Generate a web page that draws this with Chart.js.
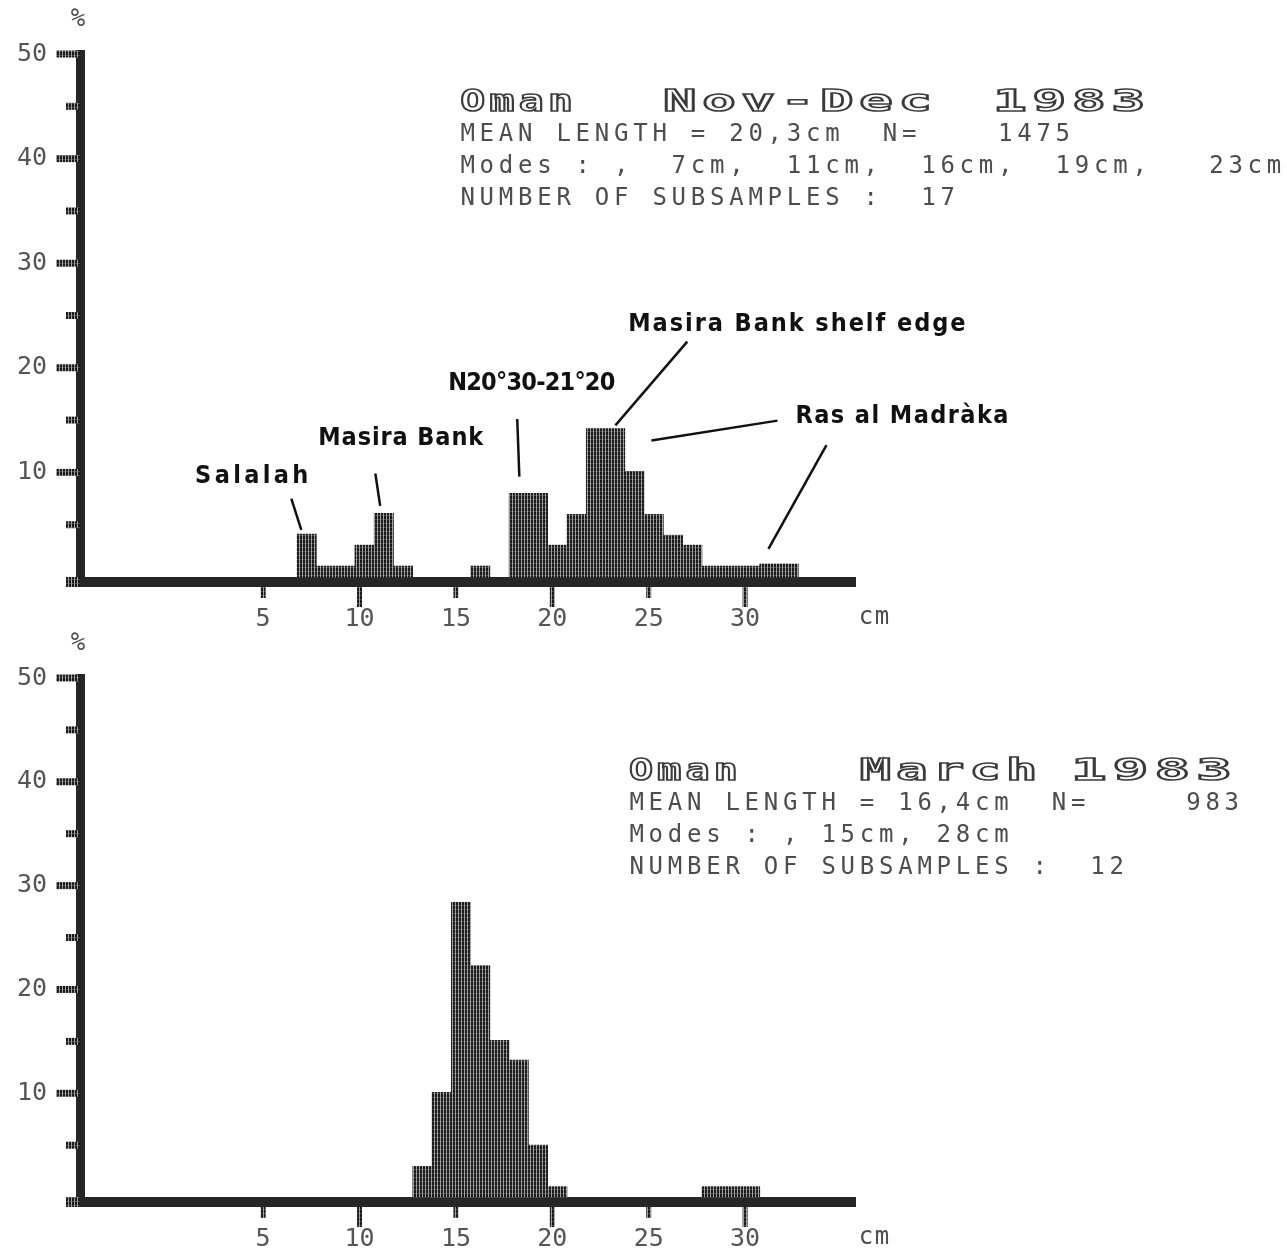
<!DOCTYPE html>
<html>
<head>
<meta charset="utf-8">
<script src="https://cdn.jsdelivr.net/npm/chart.js@4.4.1/dist/chart.umd.min.js"></script>
<style>
  body { margin: 0; background: #fff; }
  canvas { display: block; }
</style>
</head>
<body>
<canvas id="novdec" width="1287" height="630"></canvas>
<canvas id="march" width="1287" height="622"></canvas>
<script>
// length bins (cm) and % of catch per bin
const novDecLengths = [7, 8, 9, 10, 11, 12, 16, 18, 19, 20, 21, 22, 23, 24, 25, 26, 27, 28, 29, 30, 31, 32];
const novDecPct     = [4.1, 1.05, 1.05, 3.05, 6.1, 1.05, 1.05, 8.0, 8.0, 3.05, 6.0, 14.2, 14.2, 10.1, 6.0, 4.0, 3.05, 1.05, 1.05, 1.05, 1.25, 1.25];

const marchLengths = [13, 14, 15, 16, 17, 18, 19, 20, 28, 29, 30];
const marchPct     = [2.95, 10.1, 28.4, 22.3, 15.1, 13.2, 5.0, 1.0, 1.0, 1.0, 1.0];

const xTickValues = [5, 10, 15, 20, 25, 30];
const yTickValues = [10, 20, 30, 40, 50];

// bins are plotted a little right of the integer tick (bin n runs n-0.24 .. n+0.76)
const binCentre = 0.26;

// the Nov-Dec sheet has hand lettered notes: text span (cm), height (%), leader lines
const novDecNotes = [
  { text: "Salalah", x0: 1.47, x1: 7.34, y: 9.6, lines: [[6.46, 7.5, 6.98, 4.5]] },
  { text: "Masira Bank", x0: 7.86, x1: 16.42, y: 13.2, lines: [[10.82, 9.9, 11.07, 6.8]] },
  { text: "N20°30-21°20", x0: 14.6, x1: 23.27, y: 18.5, lines: [[18.18, 15.1, 18.29, 9.6]] },
  { text: "Masira Bank shelf edge", x0: 23.94, x1: 41.43, y: 24.1, lines: [[27.0, 22.5, 23.27, 14.5]] },
  { text: "Ras al Madràka", x0: 32.61, x1: 43.66, y: 15.3,
    lines: [[31.68, 14.95, 25.14, 13.05], [34.22, 12.6, 31.21, 2.7]] }
];

function hatch() {
  const c = document.createElement("canvas");
  c.width = 3; c.height = 4;
  const g = c.getContext("2d");
  g.fillStyle = "#1a1a1a"; g.fillRect(0, 0, 3, 4);
  g.fillStyle = "#a0a0a0"; g.fillRect(2, 0, 1, 4);
  g.fillStyle = "#4a4a4a"; g.fillRect(0, 3, 2, 1);
  return g.createPattern(c, "repeat");
}
const fill = hatch();

function printLine(ctx, s, x, y, adv) {
  for (let i = 0; i < s.length; i++) ctx.fillText(s[i], x + adv * (i + 0.5), y);
}

const sheet = {
  id: "sheet",
  afterDraw(chart, args, o) {
    const ctx = chart.ctx, xs = chart.scales.x, ys = chart.scales.y, ca = chart.chartArea;
    ctx.save();

    // axis tick marks
    ctx.fillStyle = fill;
    ctx.fillRect(ca.left - 14, ca.bottom - 5, 14, 10);
    for (let v = 5; v <= 50; v += 5) {
      const py = ys.getPixelForValue(v);
      const len = v % 10 === 0 ? 24 : 14;
      ctx.fillRect(ca.left - len, py - 3.5, len, 7);
    }
    xTickValues.forEach(v => {
      const px = xs.getPixelForValue(v);
      const len = v % 10 === 0 ? 20 : 11;
      ctx.fillRect(px - 2.5, ca.bottom + 5, 5, len);
    });

    // printer text
    ctx.fillStyle = "#4d4d4d";
    ctx.font = '24px "DejaVu Sans Mono"';
    ctx.textAlign = "center";
    ctx.textBaseline = "middle";
    ctx.fillText("%", ca.left - 2, ca.top - 34);
    printLine(ctx, "cm", ca.right + 3, ca.bottom + 36, 16);
    o.lines.forEach((s, i) => printLine(ctx, s, o.x, o.lineY + i * 32, 19.2));

    ctx.strokeStyle = "#3a3a3a";
    ctx.lineWidth = 1.6;
    ctx.font = 'bold 30px "DejaVu Sans Mono"';
    o.title.forEach(([w, x0, x1]) => {
      const adv = (x1 - x0) / w.length;
      const sx = adv * 0.85 / 18;
      for (let i = 0; i < w.length; i++) {
        ctx.save();
        ctx.translate(x0 + adv * (i + 0.5), o.titleY);
        ctx.scale(sx, 1);
        ctx.strokeText(w[i], 0, 0);
        ctx.restore();
      }
    });

    // hand lettered notes
    ctx.fillStyle = "#111";
    ctx.strokeStyle = "#111";
    ctx.lineWidth = 2.5;
    ctx.textAlign = "left";
    ctx.font = 'bold 25px "DejaVu Sans Condensed"';
    o.notes.forEach(n => {
      const x0 = xs.getPixelForValue(n.x0), x1 = xs.getPixelForValue(n.x1);
      ctx.letterSpacing = "0px";
      const w = ctx.measureText(n.text).width;
      ctx.letterSpacing = ((x1 - x0 - w) / (n.text.length - 1)) + "px";
      ctx.fillText(n.text, x0, ys.getPixelForValue(n.y));
      ctx.letterSpacing = "0px";
      n.lines.forEach(([a, b, c, d]) => {
        ctx.beginPath();
        ctx.moveTo(xs.getPixelForValue(a), ys.getPixelForValue(b));
        ctx.lineTo(xs.getPixelForValue(c), ys.getPixelForValue(d));
        ctx.stroke();
      });
    });
    ctx.restore();
  }
};

function histogram(id, lengths, pct, opts) {
  const canvas = document.getElementById(id);
  const H = canvas.height;
  const tickFont = { family: "DejaVu Sans Mono", size: 25 };
  return new Chart(canvas, {
    type: "bar",
    data: {
      datasets: [{
        data: lengths.map((l, i) => ({ x: l + binCentre, y: pct[i] })),
        backgroundColor: fill,
        borderWidth: 0,
        barPercentage: 1,
        categoryPercentage: 1
      }]
    },
    options: {
      responsive: false,
      animation: false,
      layout: { padding: { top: opts.top, right: 432, left: 0, bottom: 0 } },
      plugins: { legend: { display: false }, tooltip: { enabled: false }, sheet: opts },
      scales: {
        x: {
          type: "linear", offset: false, min: -4.5, max: 35.7,
          grid: { display: false, drawTicks: false },
          border: { display: true, width: 10, color: "#262626" },
          afterBuildTicks: s => { s.ticks = xTickValues.map(v => ({ value: v })); },
          afterFit: s => { s.height = H - opts.axisY; },
          ticks: { padding: 22, color: "#555", font: tickFont, maxRotation: 0, autoSkip: false }
        },
        y: {
          min: -0.476, max: 50,
          grid: { display: false, drawTicks: false },
          border: { display: true, width: 9, color: "#262626" },
          afterBuildTicks: s => { s.ticks = yTickValues.map(v => ({ value: v })); },
          afterFit: s => { s.width = 80; },
          ticks: { padding: 33, color: "#555", font: tickFont }
        }
      }
    },
    plugins: [sheet]
  });
}

histogram("novdec", novDecLengths, novDecPct, {
  top: 54, axisY: 584,
  x: 458, titleY: 103, lineY: 135,
  title: [["Oman", 458, 575], ["Nov-Dec", 660, 935], ["1983", 990, 1148]],
  lines: [
    "MEAN LENGTH = 20,3cm  N=    1475",
    "Modes : ,  7cm,  11cm,  16cm,  19cm,   23cm",
    "NUMBER OF SUBSAMPLES :  17"
  ],
  notes: novDecNotes
});

histogram("march", marchLengths, marchPct, {
  top: 42, axisY: 572,
  x: 627, titleY: 142, lineY: 174,
  title: [["Oman", 627, 740], ["March", 857, 1040], ["1983", 1068, 1235]],
  lines: [
    "MEAN LENGTH = 16,4cm  N=     983",
    "Modes : , 15cm, 28cm",
    "NUMBER OF SUBSAMPLES :  12"
  ],
  notes: []
});
</script>
</body>
</html>
